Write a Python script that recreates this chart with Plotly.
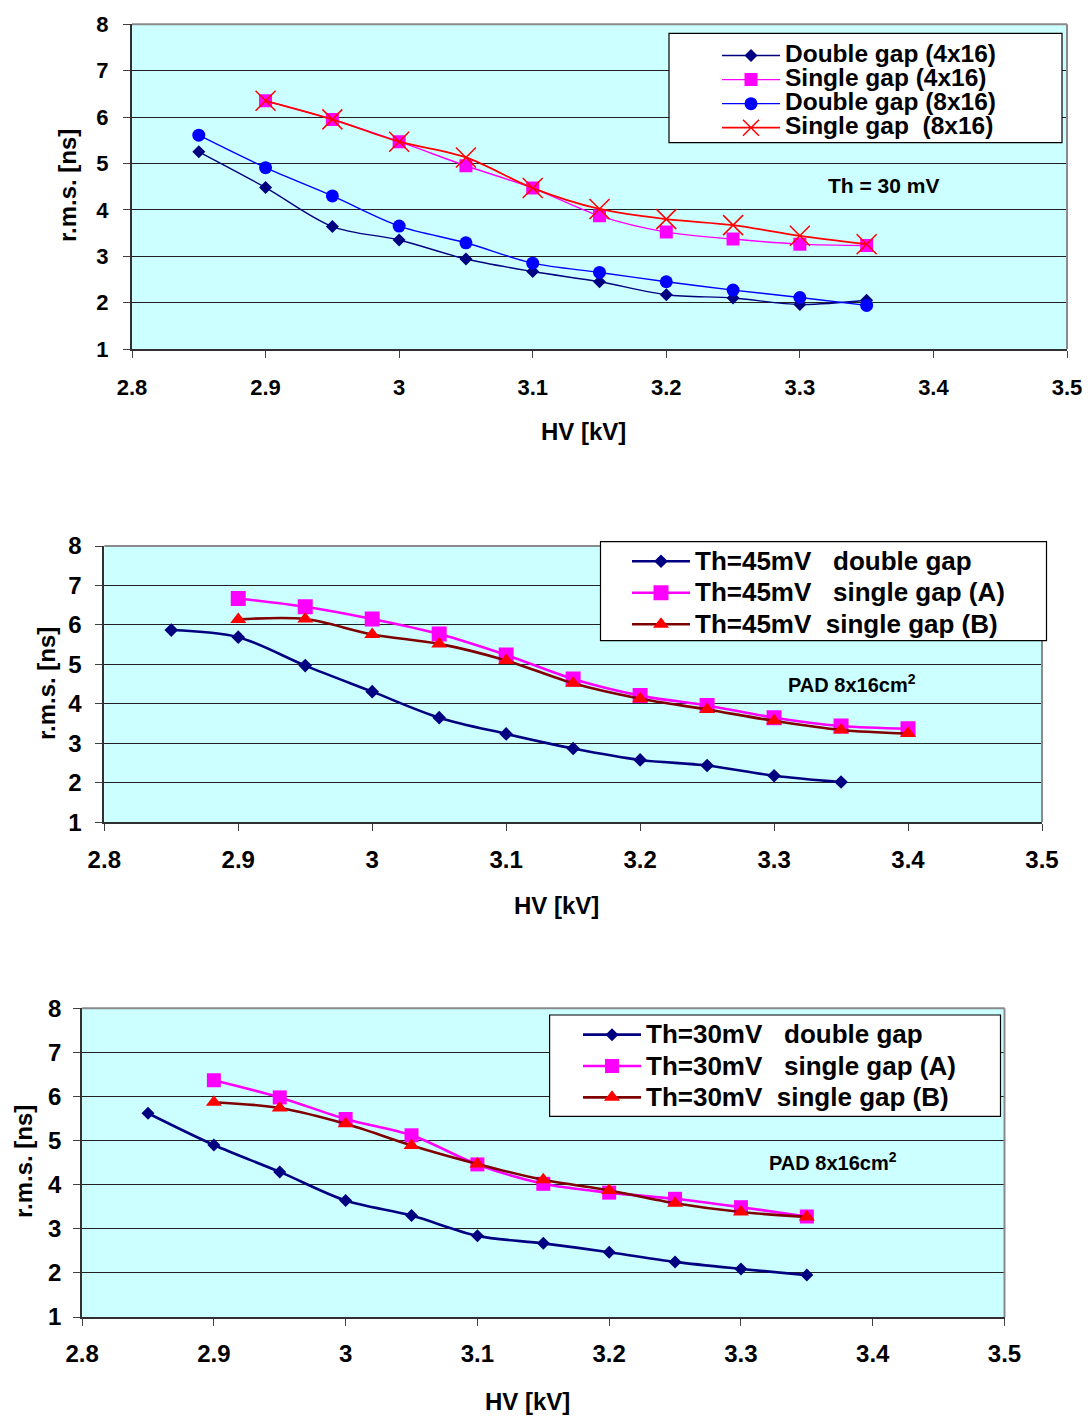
import plotly.graph_objects as go

W, H = 1088, 1427
FONT = "Liberation Sans, Arial, sans-serif"

# ---------------- shared axis ticks ----------------
hv_tickvals = [2.8, 2.9, 3.0, 3.1, 3.2, 3.3, 3.4, 3.5]
hv_ticktext = ["2.8", "2.9", "3", "3.1", "3.2", "3.3", "3.4", "3.5"]
rms_tickvals = [1, 2, 3, 4, 5, 6, 7, 8]

# ---------------- panel 1: Th = 30 mV, 4x16 and 8x16 pads ----------------
p1_hv_double = [2.85, 2.9, 2.95, 3.0, 3.05, 3.1, 3.15, 3.2, 3.25, 3.3, 3.35]
p1_hv_single = [2.9, 2.95, 3.0, 3.05, 3.1, 3.15, 3.2, 3.25, 3.3, 3.35]
p1_double_4x16 = [5.25, 4.48, 3.64, 3.35, 2.94, 2.67, 2.45, 2.17, 2.10, 1.96, 2.05]
p1_single_4x16 = [6.35, 5.95, 5.47, 4.95, 4.47, 3.87, 3.52, 3.37, 3.26, 3.23]
p1_double_8x16 = [5.61, 4.91, 4.30, 3.65, 3.29, 2.85, 2.65, 2.45, 2.27, 2.11, 1.94]
p1_single_8x16 = [6.35, 5.95, 5.47, 5.13, 4.47, 4.02, 3.80, 3.67, 3.44, 3.26]

# ---------------- panel 2: Th = 45 mV, PAD 8x16 ----------------
p2_hv_double = [2.85, 2.9, 2.95, 3.0, 3.05, 3.1, 3.15, 3.2, 3.25, 3.3, 3.35]
p2_hv_single = [2.9, 2.95, 3.0, 3.05, 3.1, 3.15, 3.2, 3.25, 3.3, 3.35, 3.4]
p2_double = [5.87, 5.69, 4.97, 4.31, 3.65, 3.24, 2.87, 2.58, 2.44, 2.18, 2.02]
p2_single_a = [6.67, 6.46, 6.15, 5.77, 5.24, 4.63, 4.21, 3.96, 3.65, 3.44, 3.37]
p2_single_b = [6.14, 6.15, 5.76, 5.52, 5.10, 4.52, 4.13, 3.86, 3.57, 3.34, 3.25]

# ---------------- panel 3: Th = 30 mV, PAD 8x16 ----------------
p3_hv_double = [2.85, 2.9, 2.95, 3.0, 3.05, 3.1, 3.15, 3.2, 3.25, 3.3, 3.35]
p3_hv_single = [2.9, 2.95, 3.0, 3.05, 3.1, 3.15, 3.2, 3.25, 3.3, 3.35]
p3_double = [5.62, 4.90, 4.29, 3.64, 3.30, 2.84, 2.67, 2.47, 2.25, 2.09, 1.95]
p3_single_a = [6.37, 5.98, 5.49, 5.12, 4.46, 4.02, 3.82, 3.68, 3.49, 3.28]
p3_single_b = [5.87, 5.74, 5.38, 4.89, 4.47, 4.11, 3.87, 3.58, 3.38, 3.27]

NAVY, MAGENTA, BLUE, RED, DARKRED = "#000080", "#FF00FF", "#0000FF", "#FF0000", "#800000"
NB = "\u00a0"


def fx(px):
    return px / W


def fy(py):
    return 1 - py / H


# plot-area boxes in pixels: (left, top, right, bottom)
boxes = {
    1: (132, 24.3, 1067, 349),
    2: (104.3, 546, 1042, 822.3),
    3: (82.1, 1008.3, 1004.5, 1317),
}


def legend_text(txt, size):
    return f'<span style="font-size:{size}px">{txt}</span>'


def line_trace(x, y, name, color, lcolor, symbol, size, lw, panel, legend, tsize, mline=None):
    marker = dict(symbol=symbol, size=size, color=color)
    if mline is not None:
        marker["line"] = mline
    return go.Scatter(
        x=x, y=y, mode="lines+markers", name=legend_text(name, tsize),
        line=dict(color=lcolor, width=lw, shape="spline", smoothing=0.9),
        marker=marker,
        xaxis="x" if panel == 1 else f"x{panel}",
        yaxis="y" if panel == 1 else f"y{panel}",
        legend=legend,
    )


fig = go.Figure()

# panel 1
fig.add_trace(line_trace(p1_hv_double, p1_double_4x16, "Double gap (4x16)", NAVY, NAVY, "diamond", 10, 1.4, 1, "legend", 24.5))
fig.add_trace(line_trace(p1_hv_single, p1_single_4x16, "Single gap (4x16)", MAGENTA, MAGENTA, "square", 13, 1.4, 1, "legend", 24.5))
fig.add_trace(line_trace(p1_hv_double, p1_double_8x16, "Double gap (8x16)", BLUE, BLUE, "circle", 13, 1.4, 1, "legend", 24.5))
fig.add_trace(line_trace(p1_hv_single, p1_single_8x16, f"Single gap{NB}{NB}(8x16)", RED, RED, "x-thin", 20, 1.8, 1, "legend", 24.5,
                         mline=dict(color=RED, width=1.5)))

# panel 2
fig.add_trace(line_trace(p2_hv_double, p2_double, f"Th=45mV{NB*3}double gap", NAVY, NAVY, "diamond", 10.5, 2.6, 2, "legend2", 26))
fig.add_trace(line_trace(p2_hv_single, p2_single_a, f"Th=45mV{NB*3}single gap (A)", MAGENTA, MAGENTA, "square", 15, 2.6, 2, "legend2", 26))
fig.add_trace(line_trace(p2_hv_single, p2_single_b, f"Th=45mV{NB*2}single gap (B)", RED, DARKRED, "triangle-up", 14, 2.6, 2, "legend2", 26))

# panel 3
fig.add_trace(line_trace(p3_hv_double, p3_double, f"Th=30mV{NB*3}double gap", NAVY, NAVY, "diamond", 10, 2.6, 3, "legend3", 26))
fig.add_trace(line_trace(p3_hv_single, p3_single_a, f"Th=30mV{NB*3}single gap (A)", MAGENTA, MAGENTA, "square", 14, 2.6, 3, "legend3", 26))
fig.add_trace(line_trace(p3_hv_single, p3_single_b, f"Th=30mV{NB*2}single gap (B)", RED, DARKRED, "triangle-up", 14, 2.6, 3, "legend3", 26))

layout = dict(
    template="none",
    width=W, height=H,
    margin=dict(l=0, r=0, t=0, b=0, pad=0),
    paper_bgcolor="white",
    plot_bgcolor="#CCFFFF",
    font=dict(family=FONT, color="black"),
    showlegend=True,
)

tick_sizes = {1: 22, 2: 24, 3: 24}
title_sizes = {1: 24, 2: 24, 3: 24}
x_standoff = {1: 11, 2: 8, 3: 7}
y_standoff = {1: 10, 2: 9, 3: 7}

shapes = []
annotations = []
for p, (l, t, r, b) in boxes.items():
    xa = "xaxis" if p == 1 else f"xaxis{p}"
    ya = "yaxis" if p == 1 else f"yaxis{p}"
    xs = "x" if p == 1 else f"x{p}"
    ys = "y" if p == 1 else f"y{p}"
    layout[xa] = dict(
        domain=[fx(l), fx(r)], range=[2.8, 3.5], anchor=ys, automargin=False,
        tickvals=hv_tickvals, ticktext=hv_ticktext,
        ticks="outside", ticklen=7, tickcolor="#404040", tickwidth=1,
        showgrid=False, zeroline=False,
        showline=True, linecolor="#303030", linewidth=2,
        tickfont=dict(size=tick_sizes[p], family=FONT, color="black", weight="bold"),
        ticklabelstandoff=x_standoff[p],
    )
    layout[ya] = dict(
        domain=[fy(b), fy(t)], range=[1, 8], anchor=xs, automargin=False,
        tickvals=rms_tickvals,
        ticks="outside", ticklen=7, tickcolor="#404040", tickwidth=1,
        showgrid=True, gridcolor="#202020", gridwidth=1, zeroline=False,
        showline=True, linecolor="#303030", linewidth=2,
        tickfont=dict(size=tick_sizes[p], family=FONT, color="black", weight="bold"),
        ticklabelstandoff=y_standoff[p],
    )
    # grey frame on the top and right edges of the plot area
    shapes.append(dict(type="line", xref=f"{xs} domain", yref=f"{ys} domain", x0=0, x1=1, y0=1, y1=1,
                       line=dict(color="#8a8a8a", width=2), layer="above"))
    shapes.append(dict(type="line", xref=f"{xs} domain", yref=f"{ys} domain", x0=1, x1=1, y0=0, y1=1,
                       line=dict(color="#8a8a8a", width=2), layer="above"))

# axis titles
axis_titles = {
    1: ((583, 432), (68, 186)),
    2: ((556, 905), (46, 684)),
    3: ((527, 1401), (23, 1162)),
}
for p, ((hx, hy), (vx, vy)) in axis_titles.items():
    annotations.append(dict(text="<b>HV [kV]</b>", xref="paper", yref="paper", x=fx(hx), y=fy(hy),
                            xanchor="center", yanchor="middle", showarrow=False,
                            font=dict(size=title_sizes[p], family=FONT, color="black")))
    annotations.append(dict(text="<b>r.m.s. [ns]</b>", xref="paper", yref="paper", x=fx(vx), y=fy(vy),
                            xanchor="center", yanchor="middle", showarrow=False, textangle=-90,
                            font=dict(size=title_sizes[p], family=FONT, color="black")))

# in-plot notes
annotations.append(dict(text="<b>Th = 30 mV</b>", xref="paper", yref="paper", x=fx(883), y=fy(186),
                        xanchor="center", yanchor="middle", showarrow=False,
                        font=dict(size=21, family=FONT, color="black")))
annotations.append(dict(text="<b>PAD 8x16cm<sup>2</sup></b>", xref="paper", yref="paper", x=fx(852), y=fy(683),
                        xanchor="center", yanchor="middle", showarrow=False,
                        font=dict(size=20, family=FONT, color="black")))
annotations.append(dict(text="<b>PAD 8x16cm<sup>2</sup></b>", xref="paper", yref="paper", x=fx(833), y=fy(1161),
                        xanchor="center", yanchor="middle", showarrow=False,
                        font=dict(size=20, family=FONT, color="black")))

# legend boxes (white with black border); the legends sit inside without their own frame
legend_boxes = [(669, 33.3, 1062, 142.7), (600.5, 541.7, 1046.5, 640.7), (549.6, 1015, 1000.5, 1116.3)]
for (l, t, r, b) in legend_boxes:
    shapes.append(dict(type="rect", xref="paper", yref="paper", x0=fx(l), x1=fx(r), y0=fy(b), y1=fy(t),
                       line=dict(color="black", width=1.2), fillcolor="white", layer="above"))

legend_common = dict(bgcolor="rgba(0,0,0,0)", borderwidth=0, xanchor="left", yanchor="top",
                     xref="paper", yref="paper", itemwidth=58, itemclick=False, itemdoubleclick=False)
layout["legend"] = dict(legend_common, x=fx(717), y=fy(38.5),
                        font=dict(size=16.2, family=FONT, color="black", weight="bold"))
layout["legend2"] = dict(legend_common, x=fx(627), y=fy(540.5),
                         font=dict(size=21.9, family=FONT, color="black", weight="bold"))
layout["legend3"] = dict(legend_common, x=fx(578), y=fy(1014),
                         font=dict(size=21.8, family=FONT, color="black", weight="bold"))

layout["shapes"] = shapes
layout["annotations"] = annotations
fig.update_layout(**layout)

fig.write_html("out.html")
